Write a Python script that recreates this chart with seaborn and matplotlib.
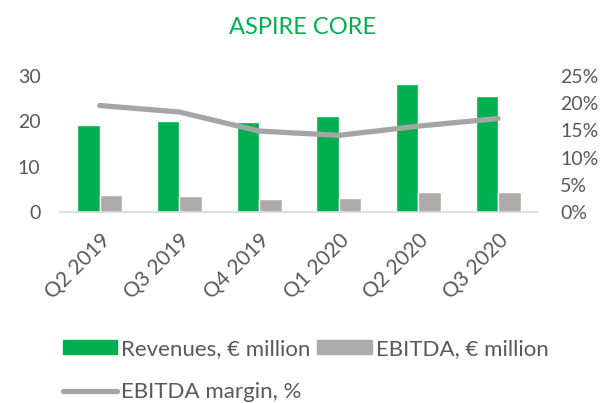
import seaborn as sns
import matplotlib.pyplot as plt
import matplotlib.patches as mpatches
import matplotlib.lines as mlines
import numpy as np
import pandas as pd

quarters = ["Q2 2019", "Q3 2019", "Q4 2019", "Q1 2020", "Q2 2020", "Q3 2020"]
revenues = [19.3, 20.0, 19.9, 21.3, 28.3, 25.7]
ebitda = [3.75, 3.6, 2.9, 3.1, 4.4, 4.4]
margin = [19.6, 18.4, 14.9, 14.1, 15.8, 17.2]

green = "#00B050"
grey = "#AEAAAA"
line_grey = "#A5A5A5"
txt = "#595959"

sns.set_style("white")
plt.rcParams["font.family"] = ["Lato", "DejaVu Sans"]

df = pd.DataFrame({
    "quarter": quarters * 2,
    "value": revenues + ebitda,
    "series": ["Revenues, € million"] * 6 + ["EBITDA, € million"] * 6,
})

fig = plt.figure(figsize=(6.05, 4.03), dpi=100)
ax = fig.add_axes([0.099, 0.474, 0.79, 0.337])

sns.barplot(data=df, x="quarter", y="value", hue="series",
            palette=[green, grey], width=0.565, ax=ax, legend=False,
            saturation=1)
ax.set_ylim(0, 30)
ax.set_yticks([0, 10, 20, 30])
ax.set_xlim(-0.5, 5.5)
ax.set_xlabel("")
ax.set_ylabel("")
for s in ["top", "right", "left"]:
    ax.spines[s].set_visible(False)
ax.spines["bottom"].set_color("#D9D9D9")
ax.spines["bottom"].set_linewidth(1.2)
ax.tick_params(axis="both", length=0, colors=txt, labelsize=14)
ax.tick_params(axis="y", pad=14)
ax.tick_params(axis="x", pad=13, labelsize=15)
plt.setp(ax.get_xticklabels(), rotation=45, ha="right", rotation_mode="anchor")

ax2 = ax.twinx()
sns.lineplot(x=np.arange(len(quarters)), y=margin, ax=ax2, color=line_grey,
             linewidth=3.8, solid_capstyle="round")
ax2.set_ylim(0, 25)
ax2.set_yticks([0, 5, 10, 15, 20, 25])
ax2.set_yticklabels([f"{v}%" for v in [0, 5, 10, 15, 20, 25]])
for s in ["top", "right", "left", "bottom"]:
    ax2.spines[s].set_visible(False)
ax2.tick_params(axis="y", length=0, colors=txt, labelsize=14, pad=16)

fig.text(0.5, 0.933, "ASPIRE CORE", color=green, fontsize=17, ha="center", va="center")

# column-major order so the margin line lands on the second row
handles = [
    mpatches.Patch(color=green, label="Revenues, € million"),
    mlines.Line2D([], [], color=line_grey, linewidth=3.8, solid_capstyle="round",
                  label="EBITDA margin, %"),
    mpatches.Patch(color=grey, label="EBITDA, € million"),
]
fig.legend(handles=handles, loc="upper left", bbox_to_anchor=(0.085, 0.187),
           ncol=2, frameon=False, fontsize=16, labelcolor=txt,
           handlelength=2.45, handleheight=0.6, handletextpad=0.2,
           columnspacing=0.3, labelspacing=1.05, borderpad=0)

fig.savefig("out.png", dpi=100)
